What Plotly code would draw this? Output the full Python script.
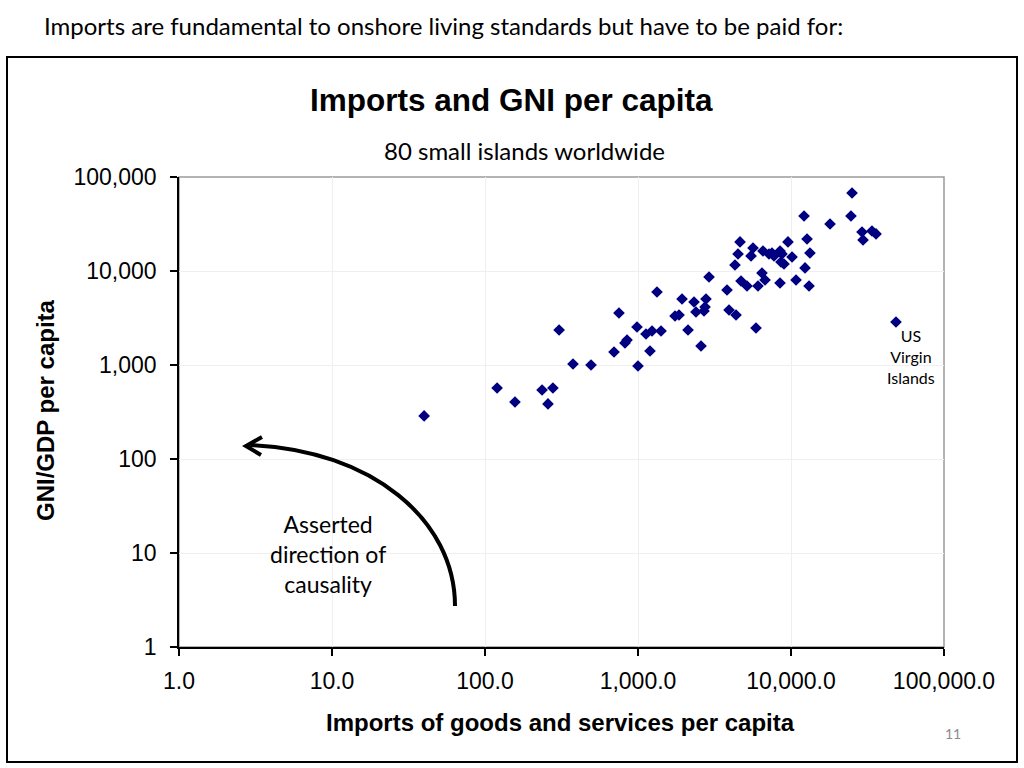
import plotly.graph_objects as go

# ---- data (imports per capita, GNI/GDP per capita) ----
imports_pc = [40, 120, 157, 236, 278, 258, 376, 493, 305, 697,
              751, 1000, 985, 848, 822, 1128, 1235, 1198, 1414, 1331,
              1746, 1854, 1940, 2123, 2323, 2393, 2582, 2700, 2782, 2742,
              2912, 3818, 3935, 4372, 4305, 4506, 4643, 4713, 5157, 5646,
              5480, 5906, 6085, 6460, 6763, 6560, 7180, 7510, 7745, 8475,
              8730, 8600, 9000, 9555, 10160, 8475, 10790, 12350, 13120, 12170,
              12730, 13300, 17990, 24660, 25060, 29110, 29570, 33830, 35960, 48550]
gni_pc = [287, 569, 404, 542, 569, 385, 1025, 1000, 2356, 1375,
          3574, 976, 2537, 1845, 1714, 2137, 2300, 1409, 2300, 5980,
          3321, 3404, 5035, 2356, 4677, 3663, 1593, 3753, 5035, 4141,
          8634, 6280, 3846, 3404, 11580, 15170, 20360, 7830, 6925, 17570,
          14450, 2476, 6925, 9526, 8020, 16330, 15170, 15540, 14450, 16330,
          15170, 12470, 11870, 20360, 14090, 7450, 8020, 10770, 6925, 38470,
          21890, 15540, 31620, 38470, 67580, 26000, 21380, 26650, 24770, 2867]

x_tickvals = [1, 10, 100, 1000, 10000, 100000]
x_ticktext = ["1.0", "10.0", "100.0", "1,000.0", "10,000.0", "100,000.0"]
y_tickvals = [1, 10, 100, 1000, 10000, 100000]
y_ticktext = ["1", "10", "100", "1,000", "10,000", "100,000"]

# ---- layout geometry (pixels) ----
W, H = 1024, 768
L, R, T, B = 179, 944, 177, 647


def px(x):
    return (x - L) / (R - L)


def py(y):
    return (B - y) / (B - T)


ARIAL = "Liberation Sans, Arial, sans-serif"
CALIBRI = "Lato, Calibri, sans-serif"

fig = go.Figure()
fig.add_trace(go.Scatter(
    x=imports_pc, y=gni_pc, mode="markers",
    marker=dict(symbol="diamond", size=9, color="#000080",
                line=dict(width=0)),
    showlegend=False, hoverinfo="x+y"))

axis_common = dict(type="log", range=[0, 5],
                   showgrid=True, gridcolor="#efefef", gridwidth=1,
                   showline=True, linecolor="black", linewidth=1.5,
                   ticks="outside", ticklen=7, tickcolor="black", tickwidth=1.5,
                   tickfont=dict(family=ARIAL, size=23, color="black"),
                   zeroline=False)

fig.update_layout(
    width=W, height=H,
    margin=dict(l=L, r=W - R, t=T, b=H - B, pad=0),
    paper_bgcolor="white", plot_bgcolor="white",
    font=dict(family=ARIAL, color="black"),
    xaxis=dict(axis_common, tickvals=x_tickvals, ticktext=x_ticktext,
               ticklabelstandoff=6),
    yaxis=dict(axis_common, tickvals=y_tickvals, ticktext=y_ticktext,
               ticklabelstandoff=9),
)

shapes = []
# outer slide frame
shapes.append(dict(type="rect", xref="paper", yref="paper",
                   x0=px(7), x1=px(1017), y0=py(762), y1=py(57),
                   line=dict(color="black", width=2), layer="below"))
# plot-area border (top/right gray)
shapes.append(dict(type="rect", xref="paper", yref="paper",
                   x0=0, x1=1, y0=0, y1=1,
                   line=dict(color="#9a9a9a", width=1.5), layer="below"))
# curved arrow
p0 = (455, 606); p1 = (455, 520); p2 = (372, 450); p3 = (250, 445)
path = "M {} {} C {} {}, {} {}, {} {}".format(
    px(p0[0]), py(p0[1]), px(p1[0]), py(p1[1]),
    px(p2[0]), py(p2[1]), px(p3[0]), py(p3[1]))
shapes.append(dict(type="path", xref="paper", yref="paper", path=path,
                   line=dict(color="black", width=4)))
head = "M {} {} L {} {} L {} {}".format(
    px(262), py(437), px(246), py(446), px(261), py(455))
shapes.append(dict(type="path", xref="paper", yref="paper", path=head,
                   line=dict(color="black", width=4)))
fig.update_layout(shapes=shapes)

ann = []
ann.append(dict(text="Imports are fundamental to onshore living standards but have to be paid for:",
                x=px(42), y=py(25), xanchor="left", yanchor="middle",
                font=dict(family=CALIBRI, size=24, color="black")))
ann.append(dict(text="<b>Imports and GNI per capita</b>",
                x=px(511), y=py(100), xanchor="center", yanchor="middle",
                font=dict(family=ARIAL, size=31.5, color="black")))
ann.append(dict(text="80 small islands worldwide",
                x=px(524), y=py(150), xanchor="center", yanchor="middle",
                font=dict(family=CALIBRI, size=24, color="black")))
ann.append(dict(text="<b>GNI/GDP per capita</b>", textangle=-90,
                x=px(45), y=py(410), xanchor="center", yanchor="middle",
                font=dict(family=ARIAL, size=24, color="black")))
ann.append(dict(text="<b>Imports of goods and services per capita</b>",
                x=px(560), y=py(722), xanchor="center", yanchor="middle",
                font=dict(family=ARIAL, size=24, color="black")))
ann.append(dict(text="US<br>Virgin<br>Islands",
                x=px(911), y=py(356), xanchor="center", yanchor="middle",
                font=dict(family=CALIBRI, size=16, color="black")))
ann.append(dict(text="Asserted<br>direction of<br>causality",
                x=px(328), y=py(554), xanchor="center", yanchor="middle",
                font=dict(family=CALIBRI, size=23, color="black")))
ann.append(dict(text="11", x=px(953), y=py(733), xanchor="center", yanchor="middle",
                font=dict(family=CALIBRI, size=14, color="#8c8c8c")))
for a in ann:
    a.update(xref="paper", yref="paper", showarrow=False)
fig.update_layout(annotations=ann)

fig.write_html("out.html", config={"displayModeBar": False},
               post_script="document.body.style.margin='0';")
